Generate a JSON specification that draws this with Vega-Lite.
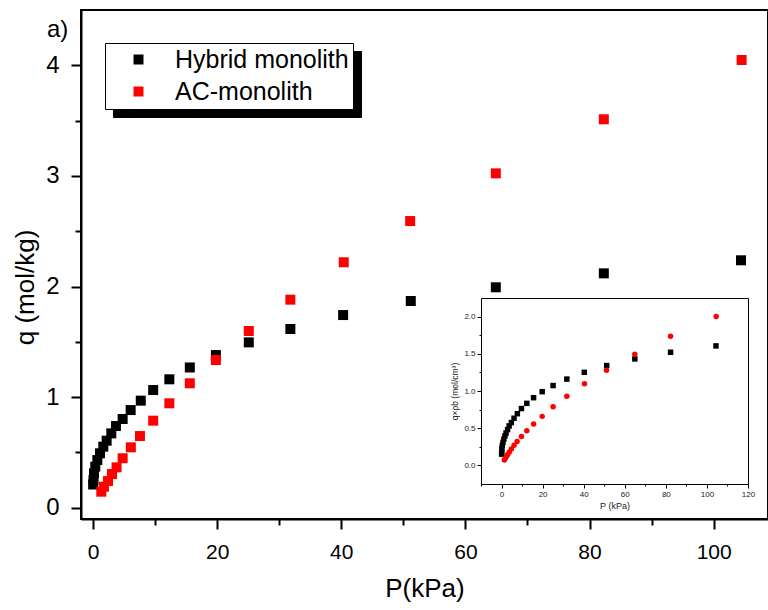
{
  "$schema": "https://vega.github.io/schema/vega-lite/v6.json",
  "width": 687,
  "height": 509,
  "autosize": "none",
  "padding": {"left": 81, "top": 10, "right": 0, "bottom": 91},
  "background": "white",
  "config": {
    "view": {"stroke": "black", "strokeWidth": 2},
    "font": "Liberation Sans",
    "axis": {"grid": false}
  },
  "title": {"text": "a)", "anchor": "start", "frame": "group", "orient": "top", "dx": -34, "dy": 51, "offset": 0, "baseline": "alphabetic", "fontSize": 24, "fontWeight": "normal", "font": "Liberation Sans", "color": "black"},
  "datasets": {
    "main": [
      {"series": "Hybrid monolith", "P": 0.03, "q": 0.21},
      {"series": "Hybrid monolith", "P": 0.08, "q": 0.25},
      {"series": "Hybrid monolith", "P": 0.16, "q": 0.311},
      {"series": "Hybrid monolith", "P": 0.37, "q": 0.371},
      {"series": "Hybrid monolith", "P": 0.7, "q": 0.431},
      {"series": "Hybrid monolith", "P": 1.13, "q": 0.492},
      {"series": "Hybrid monolith", "P": 1.66, "q": 0.552},
      {"series": "Hybrid monolith", "P": 2.2, "q": 0.606},
      {"series": "Hybrid monolith", "P": 2.95, "q": 0.672},
      {"series": "Hybrid monolith", "P": 3.7, "q": 0.739},
      {"series": "Hybrid monolith", "P": 4.78, "q": 0.802},
      {"series": "Hybrid monolith", "P": 6.07, "q": 0.883},
      {"series": "Hybrid monolith", "P": 7.7, "q": 0.968},
      {"series": "Hybrid monolith", "P": 9.7, "q": 1.064},
      {"series": "Hybrid monolith", "P": 12.3, "q": 1.161},
      {"series": "Hybrid monolith", "P": 15.6, "q": 1.268},
      {"series": "Hybrid monolith", "P": 19.8, "q": 1.38},
      {"series": "Hybrid monolith", "P": 25.1, "q": 1.495},
      {"series": "Hybrid monolith", "P": 31.8, "q": 1.616},
      {"series": "Hybrid monolith", "P": 40.3, "q": 1.742},
      {"series": "Hybrid monolith", "P": 51.2, "q": 1.869},
      {"series": "Hybrid monolith", "P": 64.9, "q": 1.993},
      {"series": "Hybrid monolith", "P": 82.3, "q": 2.119},
      {"series": "Hybrid monolith", "P": 104.4, "q": 2.237},
      {"series": "AC-monolith", "P": 1.34, "q": 0.145},
      {"series": "AC-monolith", "P": 1.77, "q": 0.19},
      {"series": "AC-monolith", "P": 2.42, "q": 0.241},
      {"series": "AC-monolith", "P": 3.06, "q": 0.305},
      {"series": "AC-monolith", "P": 3.8, "q": 0.365},
      {"series": "AC-monolith", "P": 4.78, "q": 0.447},
      {"series": "AC-monolith", "P": 6.1, "q": 0.546},
      {"series": "AC-monolith", "P": 7.57, "q": 0.648},
      {"series": "AC-monolith", "P": 9.7, "q": 0.787},
      {"series": "AC-monolith", "P": 12.3, "q": 0.944},
      {"series": "AC-monolith", "P": 15.6, "q": 1.125},
      {"series": "AC-monolith", "P": 19.8, "q": 1.335},
      {"series": "AC-monolith", "P": 25.1, "q": 1.598},
      {"series": "AC-monolith", "P": 31.8, "q": 1.881},
      {"series": "AC-monolith", "P": 40.4, "q": 2.219},
      {"series": "AC-monolith", "P": 51.1, "q": 2.592},
      {"series": "AC-monolith", "P": 64.9, "q": 3.023},
      {"series": "AC-monolith", "P": 82.3, "q": 3.512},
      {"series": "AC-monolith", "P": 104.5, "q": 4.048}
    ],
    "inset": [
      {"series": "Hybrid monolith", "P": 0.03, "v": 0.151},
      {"series": "Hybrid monolith", "P": 0.08, "v": 0.18},
      {"series": "Hybrid monolith", "P": 0.16, "v": 0.223},
      {"series": "Hybrid monolith", "P": 0.37, "v": 0.266},
      {"series": "Hybrid monolith", "P": 0.7, "v": 0.309},
      {"series": "Hybrid monolith", "P": 1.13, "v": 0.353},
      {"series": "Hybrid monolith", "P": 1.66, "v": 0.396},
      {"series": "Hybrid monolith", "P": 2.2, "v": 0.435},
      {"series": "Hybrid monolith", "P": 2.95, "v": 0.482},
      {"series": "Hybrid monolith", "P": 3.7, "v": 0.531},
      {"series": "Hybrid monolith", "P": 4.78, "v": 0.576},
      {"series": "Hybrid monolith", "P": 6.07, "v": 0.634},
      {"series": "Hybrid monolith", "P": 7.7, "v": 0.695},
      {"series": "Hybrid monolith", "P": 9.7, "v": 0.764},
      {"series": "Hybrid monolith", "P": 12.3, "v": 0.834},
      {"series": "Hybrid monolith", "P": 15.6, "v": 0.91},
      {"series": "Hybrid monolith", "P": 19.8, "v": 0.991},
      {"series": "Hybrid monolith", "P": 25.1, "v": 1.073},
      {"series": "Hybrid monolith", "P": 31.8, "v": 1.16},
      {"series": "Hybrid monolith", "P": 40.3, "v": 1.251},
      {"series": "Hybrid monolith", "P": 51.2, "v": 1.342},
      {"series": "Hybrid monolith", "P": 64.9, "v": 1.431},
      {"series": "Hybrid monolith", "P": 82.3, "v": 1.521},
      {"series": "Hybrid monolith", "P": 104.4, "v": 1.606},
      {"series": "AC-monolith", "P": 1.34, "v": 0.072},
      {"series": "AC-monolith", "P": 1.77, "v": 0.094},
      {"series": "AC-monolith", "P": 2.42, "v": 0.119},
      {"series": "AC-monolith", "P": 3.06, "v": 0.151},
      {"series": "AC-monolith", "P": 3.8, "v": 0.18},
      {"series": "AC-monolith", "P": 4.78, "v": 0.221},
      {"series": "AC-monolith", "P": 6.1, "v": 0.27},
      {"series": "AC-monolith", "P": 7.57, "v": 0.32},
      {"series": "AC-monolith", "P": 9.7, "v": 0.389},
      {"series": "AC-monolith", "P": 12.3, "v": 0.466},
      {"series": "AC-monolith", "P": 15.6, "v": 0.556},
      {"series": "AC-monolith", "P": 19.8, "v": 0.659},
      {"series": "AC-monolith", "P": 25.1, "v": 0.789},
      {"series": "AC-monolith", "P": 31.8, "v": 0.929},
      {"series": "AC-monolith", "P": 40.4, "v": 1.096},
      {"series": "AC-monolith", "P": 51.1, "v": 1.28},
      {"series": "AC-monolith", "P": 64.9, "v": 1.493},
      {"series": "AC-monolith", "P": 82.3, "v": 1.735},
      {"series": "AC-monolith", "P": 104.5, "v": 2.0}
    ]
  },
  "layer": [
    {
      "data": {"name": "main"},
      "mark": {"type": "point", "filled": true, "opacity": 1, "size": 100},
      "encoding": {
        "x": {
          "field": "P", "type": "quantitative",
          "scale": {"domain": [-1.93, 108.75], "nice": false, "zero": false},
          "axis": {
            "orient": "bottom", "title": "P(kPa)",
            "values": [0, 10, 20, 30, 40, 50, 60, 70, 80, 90, 100],
            "labelExpr": "datum.value % 20 === 0 ? datum.label : ''",
            "tickSize": {"condition": {"test": "datum.value % 20 === 0", "value": 10}, "value": 6},
            "tickWidth": 2, "tickColor": "black", "domainColor": "black", "domainWidth": 2,
            "labelFont": "Liberation Sans", "labelFontSize": 21, "labelColor": "black", "labelPadding": 12,
            "labelFlush": false, "labelOverlap": false,
            "titleFont": "Liberation Sans", "titleFontSize": 26, "titleFontWeight": "normal", "titleColor": "black",
            "titleY": 56, "titleBaseline": "top"
          }
        },
        "y": {
          "field": "q", "type": "quantitative",
          "scale": {"domain": [-0.102, 4.5], "nice": false, "zero": false},
          "axis": {
            "orient": "left", "title": "q (mol/kg)",
            "values": [0, 0.5, 1, 1.5, 2, 2.5, 3, 3.5, 4],
            "labelExpr": "datum.value % 1 === 0 ? format(datum.value, 'd') : ''",
            "tickSize": {"condition": {"test": "datum.value % 1 === 0", "value": 10}, "value": 6},
            "tickWidth": 2, "tickColor": "black", "domainColor": "black", "domainWidth": 2,
            "labelFont": "Liberation Sans", "labelFontSize": 24, "labelColor": "black", "labelPadding": 12,
            "labelFlush": false, "labelOverlap": false,
            "titleFont": "Liberation Sans", "titleFontSize": 26, "titleFontWeight": "normal", "titleColor": "black",
            "titleX": -43, "titleY": 277, "titleBaseline": "bottom", "titleAngle": 270
          }
        },
        "color": {
          "field": "series", "type": "nominal",
          "scale": {"domain": ["Hybrid monolith", "AC-monolith"], "range": ["#000000", "#ff0000"]},
          "legend": {
            "orient": "none", "legendX": 24, "legendY": 33, "title": null,
            "fillColor": "white", "strokeColor": "black", "padding": 4,
            "symbolType": "square", "symbolSize": 100, "symbolOffset": 17, "symbolStrokeWidth": 0,
            "labelOffset": 24, "labelFont": "Liberation Sans", "labelFontSize": 25, "labelColor": "black",
            "rowPadding": 6, "labelLimit": 400, "zindex": 2
          }
        },
        "shape": {
          "field": "series", "type": "nominal",
          "scale": {"domain": ["AC-monolith", "Hybrid monolith"], "range": ["square", "square"]},
          "legend": {
            "orient": "none", "legendX": 32, "legendY": 41, "title": null,
            "fillColor": "black", "strokeColor": "black", "padding": 4,
            "symbolType": "square", "symbolSize": 100, "symbolOffset": 17, "symbolOpacity": 0,
            "labelOffset": 24, "labelFont": "Liberation Sans", "labelFontSize": 25, "labelColor": "black", "labelOpacity": 0,
            "rowPadding": 6, "labelLimit": 400, "zindex": 1
          }
        }
      }
    },
    {
      "data": {"name": "inset"},
      "resolve": {"axis": {"x": "independent", "y": "independent"}},
      "layer": [
        {
          "transform": [{"filter": "datum.series === 'Hybrid monolith'"}],
          "mark": {"type": "point", "shape": "square", "filled": true, "size": 30, "color": "black", "opacity": 1},
          "encoding": {
            "x": {
              "field": "P", "type": "quantitative",
              "scale": {"domain": [-10, 120], "range": [400, 667], "nice": false, "zero": false},
              "axis": {
                "orient": "bottom", "offset": -35, "title": "P (kPa)",
                "values": [-10, 0, 10, 20, 30, 40, 50, 60, 70, 80, 90, 100, 110, 120],
                "labelExpr": "datum.value % 20 === 0 && datum.value >= 0 ? datum.label : ''",
                "tickSize": {"condition": {"test": "datum.value % 20 === 0", "value": 4}, "value": 2},
                "tickColor": "black", "tickWidth": 1, "domainColor": "black", "domainWidth": 1,
                "labelFont": "Liberation Sans", "labelFontSize": 8, "labelColor": "#222222", "labelPadding": 2,
                "labelFlush": false, "labelOverlap": false,
                "titleFont": "Liberation Sans", "titleFontSize": 9, "titleFontWeight": "normal", "titleColor": "#222222", "titlePadding": 3
              }
            },
            "y": {
              "field": "v", "type": "quantitative",
              "scale": {"domain": [-0.25, 2.25], "range": [474, 288], "nice": false, "zero": false},
              "axis": {
                "orient": "left", "offset": -400, "title": "q×ρb (mol/cm³)",
                "values": [0, 0.25, 0.5, 0.75, 1, 1.25, 1.5, 1.75, 2],
                "labelExpr": "(datum.value * 4) % 2 === 0 ? format(datum.value, '.1f') : ''",
                "tickSize": {"condition": {"test": "(datum.value * 4) % 2 === 0", "value": 4}, "value": 2},
                "tickColor": "black", "tickWidth": 1, "domainColor": "black", "domainWidth": 1,
                "labelFont": "Liberation Sans", "labelFontSize": 8, "labelColor": "#222222", "labelPadding": 2,
                "labelFlush": false, "labelOverlap": false,
                "titleFont": "Liberation Sans", "titleFontSize": 8.5, "titleFontWeight": "normal", "titleColor": "#222222", "titlePadding": 4
              }
            }
          }
        },
        {
          "transform": [{"filter": "datum.series === 'AC-monolith'"}],
          "mark": {"type": "point", "shape": "circle", "filled": true, "size": 30, "color": "#ff0000", "opacity": 1},
          "encoding": {
            "x": {
              "field": "P", "type": "quantitative",
              "axis": {"orient": "top", "offset": -288, "labels": false, "ticks": false, "title": null, "domainColor": "black", "domainWidth": 1}
            },
            "y": {
              "field": "v", "type": "quantitative",
              "axis": {"orient": "right", "offset": -20, "labels": false, "ticks": false, "title": null, "domainColor": "black", "domainWidth": 1}
            }
          }
        }
      ]
    }
  ],
  "resolve": {
    "scale": {"x": "independent", "y": "independent"},
    "axis": {"x": "independent", "y": "independent"}
  }
}
